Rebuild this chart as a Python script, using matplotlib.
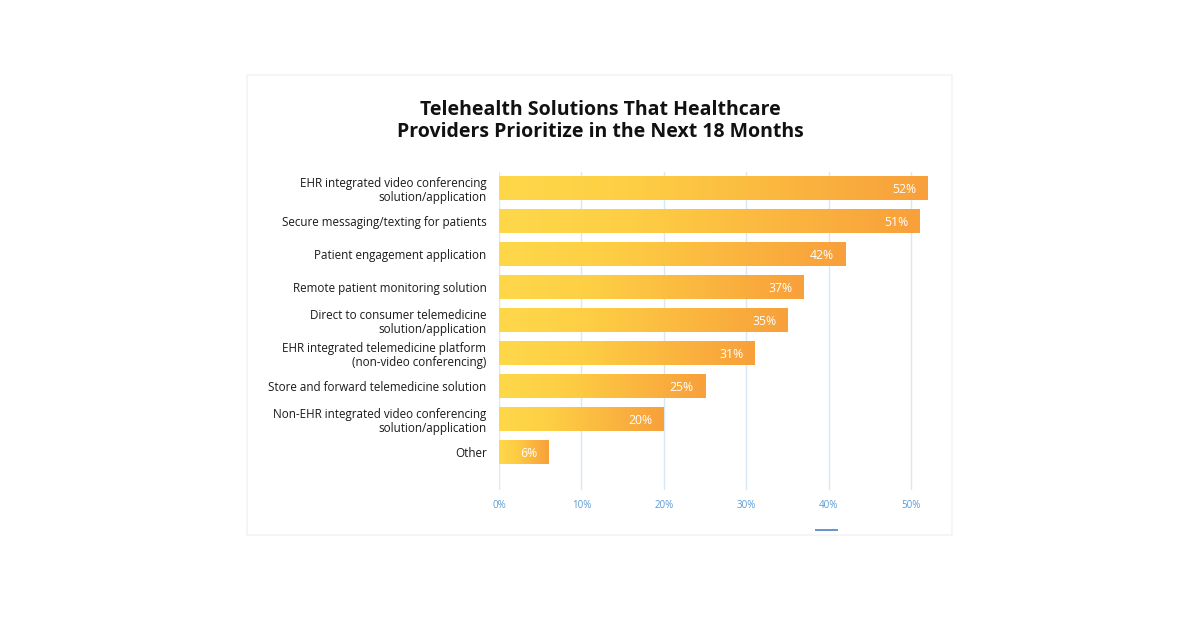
import matplotlib.pyplot as plt
import numpy as np
from matplotlib.colors import LinearSegmentedColormap
from matplotlib.patches import Rectangle

plt.rcParams['font.family'] = ['Open Sans', 'DejaVu Sans']

categories = [
    'EHR integrated video conferencing\nsolution/application',
    'Secure messaging/texting for patients',
    'Patient engagement application',
    'Remote patient monitoring solution',
    'Direct to consumer telemedicine\nsolution/application',
    'EHR integrated telemedicine platform\n(non-video conferencing)',
    'Store and forward telemedicine solution',
    'Non-EHR integrated video conferencing\nsolution/application',
    'Other',
]
values = [52, 51, 42, 37, 35, 31, 25, 20, 6]
ticks = [0, 10, 20, 30, 40, 50]

W, H = 1200, 630
fig = plt.figure(figsize=(W / 100, H / 100), dpi=100)
fig.patch.set_facecolor('white')

# faint card behind the chart
card = Rectangle((247 / W, 1 - 535 / H), 705 / W, 460 / H, transform=fig.transFigure,
                 facecolor='none', edgecolor='#f3f3f3', linewidth=1.2, zorder=-1)
fig.patches.append(card)

ax = fig.add_axes([499 / W, 1 - 490 / H, 445 / W, 318 / H])
ax.patch.set_alpha(0)

cmap = LinearSegmentedColormap.from_list(
    'bar', [(0, '#ffd84a'), (0.3, '#fecf44'), (1, '#f8a03b')])
grad = np.linspace(0, 1, 256).reshape(1, -1)
bar_h = 0.7
for i, v in enumerate(values):
    ax.imshow(grad, cmap=cmap, aspect='auto', extent=(0, v, i + bar_h / 2, i - bar_h / 2),
              zorder=2, interpolation='bilinear')
    ax.text(v - 1.35, i + 0.03, f'{v}%', color='white', fontsize=8.8,
            ha='right', va='center', zorder=3)

ax.set_xlim(0, 54)
ax.set_ylim(9.15, -0.5)

for t in ticks:
    ax.axvline(t, color='#d9e8f5', linewidth=1, zorder=1)

ax.set_yticks(range(len(categories)))
ax.set_yticklabels(categories, fontsize=8.4, color='#1a1a1a', linespacing=1.1)
ax.tick_params(axis='y', length=0, pad=9)
ax.set_xticks(ticks)
ax.set_xticklabels([f'{t}%' for t in ticks], fontsize=7, color='#5b9bd5')
ax.tick_params(axis='x', length=0, pad=7)
for s in ax.spines.values():
    s.set_visible(False)

fig.text(600 / W, 1 - 121 / H,
         'Telehealth Solutions That Healthcare\nProviders Prioritize in the Next 18 Months',
         ha='center', va='center', fontsize=14, fontweight='bold', color='#111111',
         linespacing=1.15)

# cropped logo fragment at the bottom
fig.patches.append(Rectangle((815 / W, 1 - 530.5 / H), 23 / W, 2 / H,
                             transform=fig.transFigure, facecolor='#6b95cc',
                             edgecolor='none'))

fig.savefig('out.png', dpi=100, facecolor='white')
